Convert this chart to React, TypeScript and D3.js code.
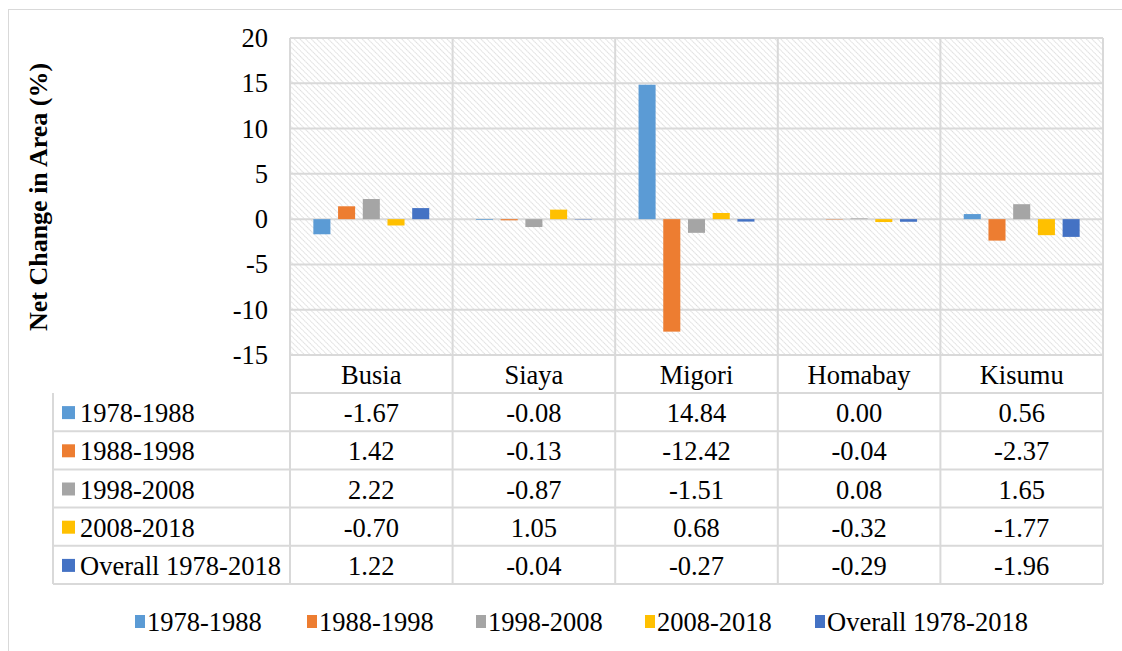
import React from "react";
import * as d3 from "d3";

// Chart data
const counties = ["Busia", "Siaya", "Migori", "Homabay", "Kisumu"];
const periods = ["1978-1988", "1988-1998", "1998-2008", "2008-2018", "Overall 1978-2018"];
const colors = ["#5B9BD5", "#ED7D31", "#A5A5A5", "#FFC000", "#4472C4"];

const v1978_1988 = [-1.67, -0.08, 14.84, 0.0, 0.56];
const v1988_1998 = [1.42, -0.13, -12.42, -0.04, -2.37];
const v1998_2008 = [2.22, -0.87, -1.51, 0.08, 1.65];
const v2008_2018 = [-0.7, 1.05, 0.68, -0.32, -1.77];
const vOverall = [1.22, -0.04, -0.27, -0.29, -1.96];
const seriesValues = [v1978_1988, v1988_1998, v1998_2008, v2008_2018, vOverall];

const yTicks = [20, 15, 10, 5, 0, -5, -10, -15];

const W = 1122;
const H = 651;
const FONT = "'Liberation Serif', 'Times New Roman', serif";
const GRID = "#d9d9d9";
const FS = 26.5;

const App: React.FC = () => {
	const plot = { left: 290, right: 1103, top: 38, bottom: 355 };
	const catRowBottom = 393;
	const tableLeft = 53;
	const rowH = (584 - catRowBottom) / periods.length;

	const x0 = d3.scaleBand<string>().domain(counties).range([plot.left, plot.right]).padding(0);
	const x1 = d3
		.scaleBand<string>()
		.domain(periods)
		.range([0, x0.bandwidth()])
		.paddingInner(0.31)
		.paddingOuter(0.945);
	const y = d3.scaleLinear().domain([-15, 20]).range([plot.bottom, plot.top]);

	const legendX = [127, 299, 468, 637, 807];

	return (
		<svg width={W} height={H} style={{ display: "block", position: "absolute", left: 0, top: 0 }} fontFamily={FONT}>
			<defs>
				<pattern id="hatch" patternUnits="userSpaceOnUse" width="4" height="4" patternTransform="rotate(-45)">
					<rect width="4" height="4" fill="#ffffff" />
					<line x1="0" y1="0" x2="0" y2="4" stroke="#d4d4d4" strokeWidth="1.5" strokeDasharray="1.4 0.6" />
				</pattern>
			</defs>
			<rect x={0} y={0} width={W} height={H} fill="#fff" />
			<rect x={8.5} y={9.5} width={W - 8} height={H - 9} fill="none" stroke={GRID} strokeWidth={1} />

			{/* plot area hatched background */}
			<rect
				x={plot.left}
				y={plot.top}
				width={plot.right - plot.left}
				height={plot.bottom - plot.top}
				fill="url(#hatch)"
			/>

			{/* horizontal gridlines */}
			{yTicks.map((t) => (
				<line key={"g" + t} x1={plot.left} x2={plot.right} y1={y(t)} y2={y(t)} stroke={GRID} strokeWidth={2} />
			))}

			{/* vertical category lines through plot and table */}
			{counties.map((c) => (
				<line key={"v" + c} x1={x0(c)!} x2={x0(c)!} y1={plot.top} y2={584} stroke={GRID} strokeWidth={2} />
			))}
			<line x1={plot.right} x2={plot.right} y1={plot.top} y2={584} stroke={GRID} strokeWidth={2} />

			{/* bars */}
			{periods.map((p, si) => (
				<g key={"s" + p} fill={colors[si]}>
					{counties.map((c, ci) => {
						const v = seriesValues[si][ci];
						if (v === 0) return null;
						return (
							<rect
								key={c}
								x={x0(c)! + x1(p)!}
								y={Math.min(y(v), y(0))}
								width={x1.bandwidth()}
								height={Math.abs(y(v) - y(0))}
							/>
						);
					})}
				</g>
			))}

			{/* y tick labels */}
			{yTicks.map((t) => (
				<text key={"t" + t} x={268} y={y(t)} textAnchor="end" dominantBaseline="central" fontSize={FS}>
					{t}
				</text>
			))}

			{/* y axis title */}
			<text
				transform={`translate(38, 197) rotate(-90)`}
				textAnchor="middle"
				dominantBaseline="central"
				fontSize={26}
				fontWeight="bold"
			>
				Net Change in Area (%)
			</text>

			{/* category row */}
			<line x1={plot.left} x2={plot.right} y1={catRowBottom} y2={catRowBottom} stroke={GRID} strokeWidth={2} />
			{counties.map((c) => (
				<text
					key={"c" + c}
					x={x0(c)! + x0.bandwidth() / 2}
					y={(plot.bottom + catRowBottom) / 2 + 1}
					textAnchor="middle"
					dominantBaseline="central"
					fontSize={FS}
				>
					{c}
				</text>
			))}

			{/* data table */}
			<line x1={tableLeft} x2={tableLeft} y1={catRowBottom} y2={584} stroke={GRID} strokeWidth={2} />
			{periods.map((p, si) => {
				const top = catRowBottom + si * rowH;
				const cy = top + rowH / 2 + 1;
				return (
					<g key={"r" + p}>
						<line x1={tableLeft} x2={plot.right} y1={top + rowH} y2={top + rowH} stroke={GRID} strokeWidth={2} />
						<rect x={62} y={cy - 7} width={13} height={13} fill={colors[si]} />
						<text x={80} y={cy} dominantBaseline="central" fontSize={FS}>
							{p}
						</text>
						{counties.map((c, ci) => (
							<text
								key={c}
								x={x0(c)! + x0.bandwidth() / 2}
								y={cy}
								textAnchor="middle"
								dominantBaseline="central"
								fontSize={FS}
							>
								{seriesValues[si][ci].toFixed(2)}
							</text>
						))}
					</g>
				);
			})}

			{/* legend */}
			{periods.map((p, si) => (
				<g key={"l" + p}>
					<rect x={legendX[si] + 8} y={615} width={10} height={13} fill={colors[si]} />
					<text x={legendX[si] + 20} y={622} dominantBaseline="central" fontSize={FS}>
						{p}
					</text>
				</g>
			))}
		</svg>
	);
};

export default App;
